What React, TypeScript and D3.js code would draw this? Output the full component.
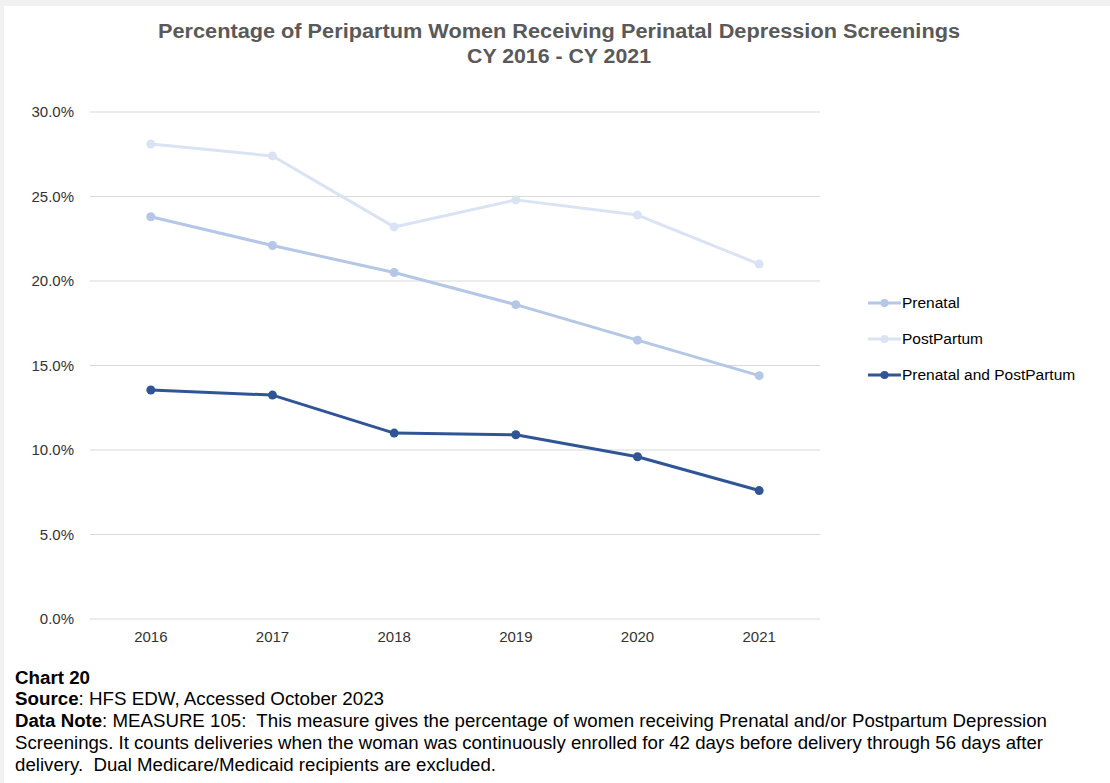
import React from "react";
import * as d3 from "d3";

const years = ["2016", "2017", "2018", "2019", "2020", "2021"];
const prenatal = [23.8, 22.1, 20.5, 18.6, 16.5, 14.4];
const postpartum = [28.1, 27.4, 23.2, 24.8, 23.9, 21.0];
const both = [13.55, 13.25, 11.0, 10.9, 9.6, 7.6];
const yTicks = [0, 5, 10, 15, 20, 25, 30];
const seriesNames = ["Prenatal", "PostPartum", "Prenatal and PostPartum"];
const seriesColors = ["#b4c7e7", "#dae3f3", "#2f5597"];
const titleLines = [
  "Percentage of Peripartum Women Receiving Perinatal Depression Screenings",
  "CY 2016 - CY 2021",
];

export default function App() {
  const W = 1110, H = 783;
  const x = d3.scaleBand<string>().domain(years).range([90, 820]);
  const y = d3.scaleLinear().domain([0, 30]).range([619, 112]);
  const cx = (i: number) => (x(years[i]) as number) + x.bandwidth() / 2;
  const line = d3
    .line<number>()
    .x((_, i) => cx(i))
    .y((d) => y(d));
  const data = [prenatal, postpartum, both];
  const font = "Liberation Sans, Arial, sans-serif";
  const order = [1, 0, 2];
  const titleLens = [802, 184];
  return (
    <svg
      width={W}
      height={H}
      style={{ position: "absolute", left: 0, top: 0, display: "block" }}
      fontFamily={font}
    >
      <rect x={0} y={0} width={W} height={H} fill="#f1f1f1" />
      <rect x={4} y={6} width={W - 4} height={H - 6} fill="#ffffff" />
      {titleLines.map((t, i) => (
        <text
          key={i}
          x={559}
          y={38 + i * 25}
          textAnchor="middle"
          fontSize={20}
          fontWeight="bold"
          fill="#595959"
          textLength={titleLens[i]}
          lengthAdjust="spacingAndGlyphs"
        >
          {t}
        </text>
      ))}
      {yTicks.map((t) => (
        <g key={t}>
          <line x1={90} x2={820} y1={y(t)} y2={y(t)} stroke="#d9d9d9" strokeWidth={1} />
          <text x={74} y={y(t) + 5} textAnchor="end" fontSize={15} fill="#333">
            {t.toFixed(1) + "%"}
          </text>
        </g>
      ))}
      {years.map((yr, i) => (
        <text key={yr} x={cx(i)} y={642} textAnchor="middle" fontSize={15} fill="#333">
          {yr}
        </text>
      ))}
      {order.map((si) => (
        <g key={si}>
          <path d={line(data[si]) || ""} fill="none" stroke={seriesColors[si]} strokeWidth={3} strokeLinejoin="round" />
          {data[si].map((v, i) => (
            <circle key={i} cx={cx(i)} cy={y(v)} r={4.5} fill={seriesColors[si]} />
          ))}
        </g>
      ))}
      {seriesNames.map((n, i) => (
        <g key={n} transform={`translate(0, ${303 + i * 36})`}>
          <line x1={868} x2={901} y1={0} y2={0} stroke={seriesColors[i]} strokeWidth={3} />
          <circle cx={884.5} cy={0} r={4} fill={seriesColors[i]} />
          <text x={902} y={5} fontSize={15.5} fill="#000">
            {n}
          </text>
        </g>
      ))}
      <g fontSize={17.5} fill="#000">
        <text x={15} y={684} fontWeight="bold" textLength={75} lengthAdjust="spacingAndGlyphs">Chart 20</text>
        <text x={15} y={705} textLength={369} lengthAdjust="spacingAndGlyphs">
          <tspan fontWeight="bold">Source</tspan>: HFS EDW, Accessed October 2023
        </text>
        <text x={15} y={727} style={{ whiteSpace: "pre" }} textLength={1032} lengthAdjust="spacingAndGlyphs">
          <tspan fontWeight="bold">Data Note</tspan>: MEASURE 105:  This measure gives the percentage of women receiving Prenatal and/or Postpartum Depression
        </text>
        <text x={15} y={749} textLength={1028} lengthAdjust="spacingAndGlyphs">
          Screenings. It counts deliveries when the woman was continuously enrolled for 42 days before delivery through 56 days after
        </text>
        <text x={15} y={771} style={{ whiteSpace: "pre" }} textLength={481} lengthAdjust="spacingAndGlyphs">
          delivery.  Dual Medicare/Medicaid recipients are excluded.
        </text>
      </g>
    </svg>
  );
}
